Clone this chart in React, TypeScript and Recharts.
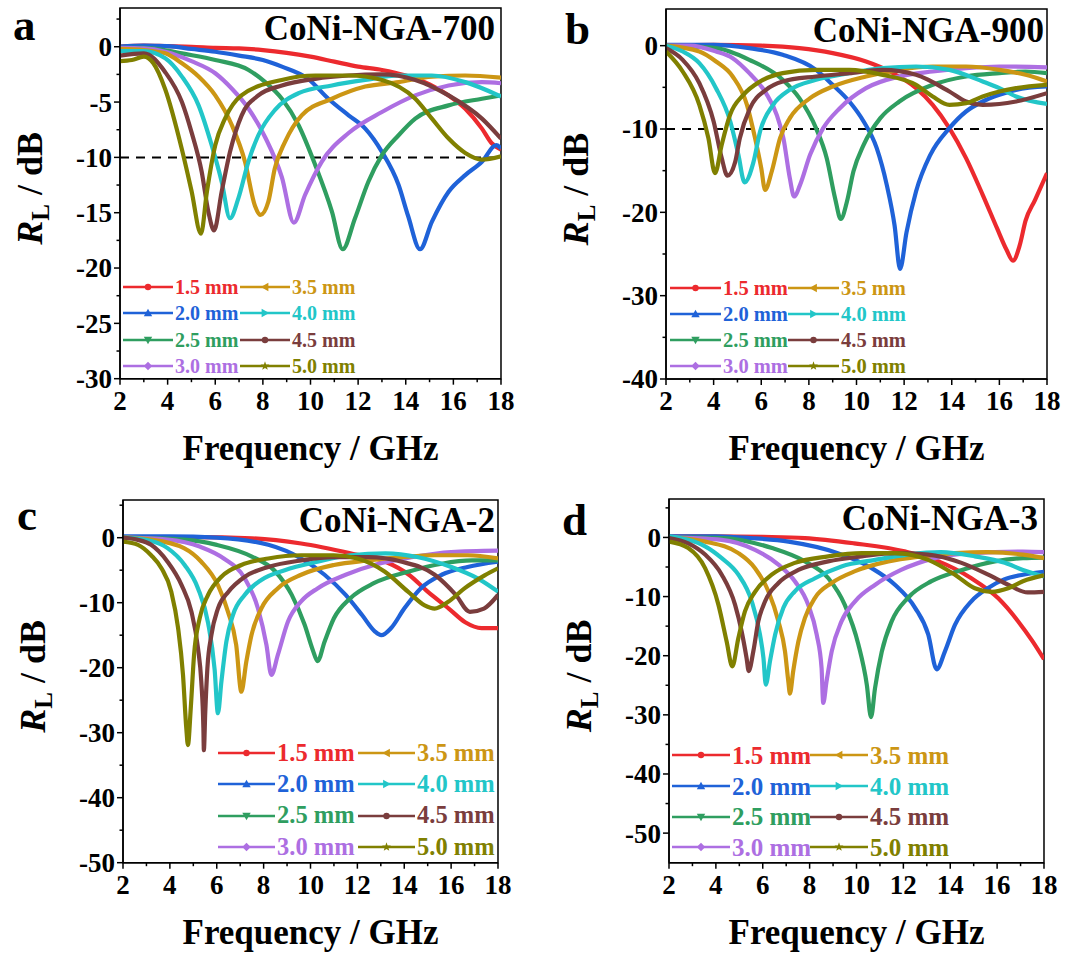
import React from 'react';
import { LineChart, Line, XAxis, YAxis, ReferenceLine, ReferenceArea, Legend, Label } from 'recharts';

const FONT = "'Liberation Serif', 'Times New Roman', Times, serif";
const TXT = { fontFamily: FONT, fontWeight: 700 } as React.CSSProperties;

const thickness = ['1.5 mm', '2.0 mm', '2.5 mm', '3.0 mm', '3.5 mm', '4.0 mm', '4.5 mm', '5.0 mm'];
const colors = ['#ec2a2e', '#1f62d8', '#2f9e60', '#ad6fe2', '#cc9614', '#22c6c8', '#7a3d3d', '#808000'];
const markers = ['circle', 'up', 'down', 'diamond', 'left', 'right', 'circle', 'star'];

// panel a: CoNi-NGA-700  [frequency GHz, RL dB]
const a15 = [[2,0],[3,0.1],[4,0.05],[5,0],[6,-0.1],[7,-0.15],[8,-0.3],[9,-0.55],[10,-0.9],[11,-1.35],[12,-1.8],[13,-2.1],[14,-2.6],[15,-3.4],[15.8,-4.4],[16.5,-5.6],[17.2,-7.4],[17.6,-8.7],[18,-9.3]];
const a20 = [[2,0],[3,0.1],[4,0.05],[5,-0.2],[6,-0.45],[7,-0.8],[8,-1.2],[8.8,-1.8],[9.9,-2.9],[10.75,-4.7],[11.6,-6.2],[12.3,-7.4],[13,-9.5],[13.7,-12.5],[14.1,-15.3],[14.6,-18.3],[15.1,-15.8],[15.8,-13.1],[16.5,-11.6],[17.2,-10.4],[17.8,-8.9],[18,-9.2]];
const a25 = [[2,-0.1],[3,-0.1],[4,-0.35],[4.6,-0.6],[6,-1.2],[7.4,-2.1],[8.1,-3.2],[8.8,-4.7],[9.5,-7.1],[10.2,-10.7],[10.9,-14.9],[11.35,-18.3],[11.87,-15.5],[12.43,-12.2],[13,-9.8],[13.7,-8.0],[14.4,-6.5],[15.8,-5.3],[17.2,-4.7],[18,-4.4]];
const a30 = [[2,-0.1],[3,-0.15],[3.9,-0.45],[5,-1.3],[6,-2.4],[6.7,-3.8],[7.4,-5.6],[8.1,-8.2],[8.8,-11.8],[9.3,-15.9],[9.77,-13.4],[10.47,-10.4],[11.6,-7.8],[13,-5.9],[14.4,-4.4],[15.8,-3.5],[17.2,-3.2],[18,-3.3]];
const a35 = [[2,-0.2],[3,-0.3],[3.9,-0.6],[4.6,-1.5],[5.3,-2.7],[6,-4.4],[6.7,-7.1],[7.25,-10.4],[7.67,-14.4],[7.9,-15.2],[8.23,-14.0],[8.5,-11.0],[8.93,-8.6],[9.63,-6.2],[10.9,-4.7],[12.3,-3.6],[13.7,-3.2],[15.1,-2.7],[16.5,-2.6],[18,-2.8]];
const a40 = [[2,-0.4],[3,-0.4],[3.9,-1.05],[4.6,-2.7],[5.3,-5.3],[5.85,-8.9],[6.27,-12.2],[6.62,-15.5],[6.97,-13.7],[7.39,-10.4],[7.81,-8.0],[8.51,-5.7],[9.5,-4.2],[10.9,-3.5],[12.3,-3.0],[13.7,-2.6],[15.1,-2.6],[16.5,-3.2],[18,-4.5]];
const a45 = [[2,-0.8],[3,-0.6],[3.9,-2.3],[4.6,-5.0],[5,-7.7],[5.43,-11.3],[5.71,-14.9],[5.95,-16.6],[6.27,-13.1],[6.62,-9.5],[7.11,-6.2],[7.81,-4.4],[8.8,-3.5],[10.2,-2.9],[11.6,-2.6],[13,-2.5],[14.4,-3.0],[15.8,-4.4],[17.2,-6.5],[18,-8.3]];
const a50 = [[2,-1.3],[2.5,-1.2],[3,-0.9],[3.4,-1.5],[3.89,-3.8],[4.59,-9.2],[5.0,-13.0],[5.4,-16.9],[5.65,-13.1],[6.0,-8.9],[6.41,-6.5],[7.1,-4.4],[8.79,-3.0],[10.2,-2.6],[11.6,-2.6],[13,-3.0],[14.4,-4.7],[15.1,-6.5],[15.8,-8.3],[16.5,-9.6],[17.2,-10.2],[18,-9.9]];

// panel b: CoNi-NGA-900
const b15 = [[2,0],[4,0.1],[6,0],[7.6,-0.3],[9,-0.9],[10.4,-1.9],[11.4,-3.1],[12.5,-5.1],[13.2,-7.1],[13.9,-9.9],[14.6,-13.5],[15.3,-17.9],[15.9,-21.9],[16.3,-24.5],[16.57,-25.8],[16.85,-24.0],[17.1,-21.0],[17.5,-18.5],[18,-15.3]];
const b20 = [[2,0.1],[4,0.1],[5.5,-0.3],[6.9,-1.1],[8.3,-2.9],[9.0,-4.7],[9.7,-6.7],[10.3,-9.1],[10.85,-12.3],[11.27,-16.7],[11.6,-21.6],[11.83,-26.8],[12.1,-22.4],[12.5,-17.5],[13.1,-13.1],[13.9,-9.9],[14.6,-7.9],[15.3,-6.7],[16,-5.9],[16.7,-5.3],[18,-4.9]];
const b25 = [[2,0],[4.1,-0.3],[5.5,-1.7],[6.9,-4.1],[7.6,-6.3],[8.3,-9.9],[8.75,-13.5],[9.1,-18.3],[9.34,-20.8],[9.6,-18.7],[9.87,-15.1],[10.3,-11.9],[11,-8.7],[11.8,-6.7],[13.2,-4.7],[14.6,-3.7],[16,-3.3],[17.1,-3.1],[18,-3.3]];
const b30 = [[2,0],[3,0],[4.1,-0.7],[4.8,-1.5],[5.5,-3.3],[6.2,-5.7],[6.65,-8.3],[6.93,-11.1],[7.2,-15.9],[7.38,-18.1],[7.63,-16.7],[8.05,-13.1],[8.6,-9.9],[9.3,-7.5],[10.4,-5.1],[11.8,-3.7],[13.2,-3.1],[14.6,-2.7],[16,-2.5],[18,-2.6]];
const b35 = [[2,0],[3.4,-0.7],[4.1,-1.9],[4.8,-3.7],[5.4,-7.1],[5.74,-11.1],[6.0,-14.7],[6.16,-17.3],[6.44,-15.1],[6.79,-11.1],[7.2,-8.7],[8.05,-6.3],[9.0,-4.9],[10.4,-3.7],[11.8,-2.9],[13.2,-2.5],[14.6,-2.5],[16,-2.9],[17.1,-3.5],[18,-4.3]];
const b40 = [[2,0],[2.7,-0.7],[3.4,-2.1],[4.1,-5.1],[4.7,-9.1],[5.04,-13.1],[5.3,-16.4],[5.67,-14.0],[5.95,-10.3],[6.5,-7.1],[7.2,-5.3],[8.3,-4.1],[9.7,-3.3],[11.1,-2.7],[12.5,-2.5],[13.9,-2.9],[15.3,-4.3],[16,-5.1],[16.7,-6.1],[18,-7.0]];
const b45 = [[2,-0.3],[2.7,-1.7],[3.4,-4.5],[4.0,-9.1],[4.34,-13.5],[4.58,-15.6],[4.9,-14.0],[5.1,-11.1],[5.53,-7.5],[6.2,-5.3],[6.9,-4.3],[8.3,-3.7],[9.7,-3.3],[11.1,-2.9],[12.5,-3.5],[13.9,-5.5],[14.6,-6.7],[15.3,-7.1],[16,-7.0],[16.7,-6.7],[18,-5.7]];
const b50 = [[2,-0.7],[2.7,-3.1],[3.4,-7.1],[3.78,-11.1],[4.06,-15.3],[4.34,-11.9],[4.69,-8.3],[5.25,-5.9],[5.95,-4.3],[6.9,-3.3],[8.3,-2.9],[9.7,-2.9],[11.1,-3.5],[12.5,-4.7],[13.2,-6.1],[13.9,-7.1],[14.6,-6.9],[15.3,-6.1],[16,-5.5],[16.7,-5.1],[18,-4.7]];

// panel c: CoNi-NGA-2
const c15 = [[2,0],[5,0.1],[7.5,-0.1],[9.6,-0.9],[11.7,-2.4],[13.2,-3.7],[14.2,-5.7],[15,-8.3],[15.9,-10.9],[16.6,-13.0],[17.3,-13.9],[18,-13.9]];
const c20 = [[2,0.2],[4,0.2],[6,0],[8.2,-1.1],[9.6,-3.2],[10.6,-5.7],[11.5,-8.8],[12.2,-11.9],[12.74,-14.4],[13.02,-15.0],[13.44,-13.9],[14.0,-10.9],[14.7,-7.8],[15.6,-5.7],[16.7,-4.5],[18,-3.7]];
const c25 = [[2,0],[4.6,-0.3],[6,-1.1],[7.5,-2.9],[8.5,-5.2],[9.2,-8.8],[9.75,-13.4],[10.1,-17.3],[10.3,-19.0],[10.6,-16.0],[11.0,-12.4],[11.7,-9.3],[12.7,-7.0],[14.2,-5.2],[15.6,-4.0],[16.9,-3.5],[18,-3.5]];
const c30 = [[2,0],[3.9,-0.3],[5.3,-1.4],[6.3,-3.2],[7.2,-6.3],[7.76,-10.9],[8.12,-16.5],[8.33,-21.1],[8.61,-18.0],[9.04,-12.9],[9.6,-9.8],[10.3,-7.8],[11.5,-5.7],[12.9,-4.0],[14.3,-3.0],[16,-2.2],[18,-2.0]];
const c35 = [[2,0],[3.2,-0.3],[4.6,-1.6],[5.34,-3.7],[6.05,-7.3],[6.48,-11.4],[6.83,-16.5],[7.05,-23.7],[7.26,-19.1],[7.48,-15.0],[7.9,-10.9],[8.6,-7.8],[9.6,-5.7],[11,-4.2],[12.45,-3.5],[13.9,-3.0],[15.3,-2.7],[16.7,-2.7],[18,-3.2]];
const c40 = [[2,0],[3.2,-0.5],[3.9,-1.6],[4.63,-4.2],[5.2,-7.8],[5.63,-13.1],[5.91,-20.3],[6.05,-27.0],[6.2,-22.1],[6.41,-16.0],[6.69,-11.9],[7.19,-8.8],[7.9,-6.5],[8.9,-5.0],[10.3,-3.7],[11.7,-2.7],[13.2,-2.4],[14.6,-3.0],[16,-4.5],[17.15,-6.3],[18,-8.3]];
const c45 = [[2,0],[2.6,-0.3],[3.2,-1.1],[3.9,-3.7],[4.5,-7.3],[4.92,-11.4],[5.2,-17.0],[5.34,-22.1],[5.43,-29.3],[5.45,-32.7],[5.51,-26.8],[5.6,-20.1],[5.77,-15.0],[6.05,-10.9],[6.5,-8.3],[7.2,-6.0],[8.2,-4.5],[9.6,-3.5],[11,-3.0],[12.45,-3.0],[13.9,-3.7],[15.3,-5.7],[16.2,-8.8],[16.8,-11.4],[17.4,-10.9],[18,-8.8]];
const c50 = [[2,-0.6],[2.64,-1.1],[3.2,-2.7],[3.64,-4.7],[4.06,-8.3],[4.35,-13.9],[4.56,-21.1],[4.7,-29.3],[4.77,-31.9],[4.89,-26.3],[5.03,-18.1],[5.27,-12.4],[5.63,-8.8],[6.2,-6.0],[7.05,-4.2],[8.2,-3.2],[9.6,-2.7],[11,-2.7],[12,-3.2],[13.16,-5.2],[14.16,-8.3],[14.87,-10.4],[15.3,-10.9],[15.86,-9.9],[16.57,-7.8],[17.43,-5.8],[18,-4.7]];

// panel d: CoNi-NGA-3
const d15 = [[2,0.2],[4,0.2],[6,0.1],[7.8,-0.1],[9.9,-1.0],[12.1,-2.4],[13.5,-4.05],[14.9,-6.9],[16.05,-10.3],[16.9,-14.2],[17.5,-17.5],[18,-20.6]];
const d20 = [[2,0.2],[4,0.2],[5.5,-0.1],[7.1,-0.7],[9.2,-2.65],[10.65,-5.2],[11.64,-8.0],[12.5,-11.9],[13.06,-16.4],[13.42,-22.3],[13.77,-19.3],[14.2,-14.8],[14.9,-10.8],[15.6,-8.6],[16.3,-7.1],[17.1,-6.3],[18,-5.8]];
const d25 = [[2,0],[4.25,-0.1],[6.4,-1.8],[7.8,-4.05],[8.8,-6.9],[9.5,-11.4],[10.08,-18.1],[10.44,-24.9],[10.62,-30.4],[10.79,-25.5],[11.08,-19.3],[11.5,-14.2],[12.2,-10.2],[13.2,-7.4],[14.5,-5.5],[15.9,-4.05],[17.1,-3.5],[18,-3.4]];
const d30 = [[2,0],[4.25,-0.4],[5.67,-2.1],[6.67,-4.6],[7.37,-7.4],[7.94,-11.4],[8.3,-16.4],[8.51,-22.1],[8.58,-28.0],[8.72,-24.4],[8.94,-19.3],[9.36,-14.2],[9.94,-10.8],[10.8,-8.0],[11.9,-5.5],[13.35,-3.5],[14.9,-2.65],[17.1,-2.4],[18,-2.5]];
const d35 = [[2,0],[3.54,-0.7],[4.96,-2.65],[5.67,-5.2],[6.24,-9.1],[6.67,-14.2],[6.95,-19.3],[7.09,-24.3],[7.16,-26.4],[7.3,-22.6],[7.52,-17.6],[7.8,-13.6],[8.23,-10.2],[8.94,-7.7],[9.94,-5.7],[11.36,-4.05],[12.78,-3.2],[14.2,-2.65],[15.6,-2.5],[17.1,-2.9],[18,-3.5]];
const d40 = [[2,0.2],[2.82,-0.4],[3.54,-1.5],[4.25,-3.5],[4.96,-6.3],[5.53,-10.8],[5.88,-16.4],[6.03,-20.4],[6.13,-24.9],[6.31,-20.9],[6.53,-16.4],[6.88,-11.9],[7.37,-9.1],[8.23,-6.9],[9.36,-4.9],[10.8,-3.8],[12.2,-2.9],[13.6,-2.5],[15.05,-3.2],[16.33,-4.3],[17.1,-5.5],[18,-6.6]];
const d45 = [[2,-0.1],[2.82,-1.0],[3.54,-2.9],[4.25,-6.3],[4.82,-11.4],[5.1,-15.9],[5.31,-20.4],[5.4,-22.6],[5.6,-19.2],[5.81,-14.2],[6.1,-10.8],[6.67,-7.7],[7.52,-5.5],[8.79,-4.05],[10.22,-3.2],[11.64,-2.65],[13.06,-2.9],[14.48,-4.3],[15.62,-6.3],[16.47,-8.0],[17.3,-9.3],[18,-9.2]];
const d50 = [[2,-0.7],[2.82,-1.8],[3.54,-5.2],[4.11,-11.4],[4.46,-17.6],[4.7,-21.8],[4.96,-17.0],[5.24,-12.5],[5.67,-9.2],[6.38,-6.3],[7.37,-4.3],[8.79,-3.2],[10.22,-2.65],[11.64,-2.65],[13.06,-3.8],[14.2,-6.3],[15.05,-8.6],[15.76,-9.2],[16.47,-8.6],[17.1,-7.4],[18,-6.4]];

const xMajor = [2, 4, 6, 8, 10, 12, 14, 16, 18];
const xMinor = [3, 5, 7, 9, 11, 13, 15, 17];
const yMajorA = [0, -5, -10, -15, -20, -25, -30];
const yMinorA = [2.5, -2.5, -7.5, -12.5, -17.5, -22.5, -27.5];
const yMajorB = [0, -10, -20, -30, -40];
const yMinorB = [-5, -15, -25, -35];
const yMajorCD = [0, -10, -20, -30, -40, -50];
const yMinorCD = [5, -5, -15, -25, -35, -45];

const panels = [
  { id: 'a', title: 'CoNi-NGA-700', series: [a15, a20, a25, a30, a35, a40, a45, a50],
    left: 120, top: 8.3, w: 381, h: 370.7, yMin: -30, yMax: 3.5, yMajor: yMajorA, yMinor: yMinorA, dashed: true,
    legend: { x: 123, y: 273.5, colW: 117, lineW: 50, rowH: 26.5, fs: 20 },
    letter: { x: 13, y: 40 }, head: { x: 495, y: 40 } },
  { id: 'b', title: 'CoNi-NGA-900', series: [b15, b20, b25, b30, b35, b40, b45, b50],
    left: 666, top: 9, w: 381, h: 370, yMin: -40, yMax: 4.4, yMajor: yMajorB, yMinor: yMinorB, dashed: true,
    legend: { x: 670, y: 275, colW: 118, lineW: 51, rowH: 26, fs: 20.5 },
    letter: { x: 565, y: 44 }, head: { x: 1044, y: 41.5 } },
  { id: 'c', title: 'CoNi-NGA-2', series: [c15, c20, c25, c30, c35, c40, c45, c50],
    left: 123, top: 500, w: 375, h: 362.7, yMin: -50, yMax: 5.8, yMajor: yMajorCD, yMinor: yMinorCD, dashed: false,
    legend: { x: 218, y: 737.5, colW: 140, lineW: 57, rowH: 31.3, fs: 24.5 },
    letter: { x: 17, y: 530 }, head: { x: 495, y: 531.5 } },
  { id: 'd', title: 'CoNi-NGA-3', series: [d15, d20, d25, d30, d35, d40, d45, d50],
    left: 669, top: 499, w: 375, h: 363.7, yMin: -55, yMax: 6.5, yMajor: yMajorCD, yMinor: yMinorCD, dashed: false,
    legend: { x: 672, y: 740, colW: 138, lineW: 58, rowH: 30.7, fs: 25 },
    letter: { x: 562, y: 535 }, head: { x: 1038, y: 530 } },
];

const YW = 118;
const MT = 10;
const MR = 20;
const XH = 95;
const TICK_FS = 27;
const LETTER_FS = 45;

const Marker = ({ kind, cx, cy, color }: any) => {
  const r = 4.2;
  if (kind === 'circle') return <circle cx={cx} cy={cy} r={3.2} fill={color} />;
  let pts: number[][] = [];
  if (kind === 'up') pts = [[0, -r], [r, r * 0.8], [-r, r * 0.8]];
  if (kind === 'down') pts = [[0, r], [r, -r * 0.8], [-r, -r * 0.8]];
  if (kind === 'left') pts = [[-r, 0], [r * 0.8, -r], [r * 0.8, r]];
  if (kind === 'right') pts = [[r, 0], [-r * 0.8, -r], [-r * 0.8, r]];
  if (kind === 'diamond') pts = [[0, -r], [r, 0], [0, r], [-r, 0]];
  if (kind === 'star') {
    for (let i = 0; i < 10; i++) {
      const a = -Math.PI / 2 + (i * Math.PI) / 5;
      const rr = i % 2 === 0 ? r + 0.5 : r * 0.45;
      pts.push([rr * Math.cos(a), rr * Math.sin(a)]);
    }
  }
  return <polygon points={pts.map((p) => `${cx + p[0]},${cy + p[1]}`).join(' ')} fill={color} />;
};

const LegendBox = ({ lg }: any) => (
  <div style={{ display: 'grid', gridTemplateColumns: `${lg.colW}px ${lg.colW}px`, gridTemplateRows: `repeat(4, ${lg.rowH}px)`, gridAutoFlow: 'column', ...TXT }}>
    {thickness.map((t, i) => (
      <div key={t} style={{ display: 'flex', alignItems: 'center', whiteSpace: 'nowrap' }}>
        <svg width={lg.lineW} height={14} style={{ flex: 'none' }}>
          <line x1={0} x2={lg.lineW} y1={7} y2={7} stroke={colors[i]} strokeWidth={2.5} />
          <Marker kind={markers[i]} cx={lg.lineW / 2} cy={7} color={colors[i]} />
        </svg>
        <span style={{ marginLeft: 2, fontSize: lg.fs, color: colors[i], lineHeight: 1, ...TXT }}>{t}</span>
      </div>
    ))}
  </div>
);

const Panel = ({ p }: any) => {
  const width = YW + p.w + MR;
  const height = MT + p.h + XH;
  const xTicks = [...xMajor, ...xMinor].sort((a, b) => a - b);
  const yTicks = [...p.yMajor, ...p.yMinor].sort((a, b) => b - a);

  const xTick = (props: any) => {
    const { x, y, payload } = props;
    const major = xMajor.includes(payload.value);
    return (
      <g>
        <line x1={x} x2={x} y1={y} y2={y + (major ? 6 : 3.5)} stroke="#000" strokeWidth={1.5} />
        {major && (
          <text x={x} y={y + 31} textAnchor="middle" fill="#000" style={{ ...TXT, fontSize: TICK_FS }}>
            {payload.value}
          </text>
        )}
      </g>
    );
  };

  const yTick = (props: any) => {
    const { x, y, payload } = props;
    const major = p.yMajor.includes(payload.value);
    return (
      <g>
        <line x1={x} x2={x - (major ? 6 : 3.5)} y1={y} y2={y} stroke="#000" strokeWidth={1.5} />
        {major && (
          <text x={x - 8} y={y} dy="0.35em" textAnchor="end" fill="#000" style={{ ...TXT, fontSize: TICK_FS }}>
            {String(payload.value)}
          </text>
        )}
      </g>
    );
  };

  const xTitle = (props: any) => {
    const vb = props.viewBox;
    return (
      <text x={vb.x + vb.width / 2} y={vb.y + 81} textAnchor="middle" fill="#000" style={{ ...TXT, fontSize: 35 }}>
        Frequency / GHz
      </text>
    );
  };

  const yTitle = (props: any) => {
    const vb = props.viewBox;
    const cx = vb.x + vb.width - 78;
    const cy = vb.y + vb.height / 2 - 5;
    return (
      <text x={cx} y={cy} transform={`rotate(-90 ${cx} ${cy})`} textAnchor="middle" fill="#000" style={{ ...TXT, fontSize: 36 }}>
        <tspan style={{ fontStyle: 'italic' }}>R</tspan>
        <tspan style={{ fontSize: 25 }} dy={7}>L</tspan>
        <tspan dy={-7}> / dB</tspan>
      </text>
    );
  };

  const lg = p.legend;
  const ox = p.left - YW;
  const oy = p.top - MT;

  return (
    <div style={{ position: 'absolute', left: ox, top: oy }}>
      <LineChart width={width} height={height} margin={{ top: MT, right: MR, left: 0, bottom: 0 }}>
        <XAxis type="number" dataKey="f" domain={[2, 18]} ticks={xTicks} interval={0} height={XH} tickSize={0} tickMargin={0}
          tickLine={false} axisLine={{ stroke: '#000', strokeWidth: 1.5 }} tick={xTick} allowDataOverflow>
          <Label content={xTitle} />
        </XAxis>
        <YAxis type="number" domain={[p.yMin, p.yMax]} ticks={yTicks} interval={0} width={YW} tickSize={0} tickMargin={0}
          tickLine={false} axisLine={{ stroke: '#000', strokeWidth: 1.5 }} tick={yTick} allowDataOverflow>
          <Label content={yTitle} />
        </YAxis>
        <ReferenceArea x1={2} x2={18} y1={p.yMin} y2={p.yMax} fill="none" fillOpacity={0} stroke="#000" strokeWidth={1.5} />
        {p.dashed && <ReferenceLine y={-10} stroke="#000" strokeWidth={2} strokeDasharray="9 7" />}
        {p.series.map((s: number[][], i: number) => (
          <Line key={thickness[i]} data={s.map(([f, v]) => ({ f, v }))} dataKey="v" type="monotone" stroke={colors[i]}
            strokeWidth={4.2} dot={false} activeDot={false} isAnimationActive={false} name={thickness[i]} />
        ))}
        <Legend layout="vertical" align="center" verticalAlign="middle"
          wrapperStyle={{ left: lg.x - ox, top: lg.y - oy, width: lg.colW * 2 + 30, height: lg.rowH * 4 }}
          content={() => <LegendBox lg={lg} />} />
      </LineChart>
    </div>
  );
};

export default function App() {
  return (
    <div style={{ position: 'absolute', left: 0, top: 0, width: 1070, height: 958, background: '#fff', overflow: 'hidden' }}>
      {panels.map((p) => <Panel key={p.id} p={p} />)}
      <svg width={1070} height={958} style={{ position: 'absolute', left: 0, top: 0, pointerEvents: 'none' }}>
        {panels.map((p) => (
          <g key={p.id} fill="#000">
            <text x={p.letter.x} y={p.letter.y} style={{ ...TXT, fontSize: LETTER_FS }}>{p.id}</text>
            <text x={p.head.x} y={p.head.y} textAnchor="end" style={{ ...TXT, fontSize: 35 }}>{p.title}</text>
          </g>
        ))}
      </svg>
    </div>
  );
}
